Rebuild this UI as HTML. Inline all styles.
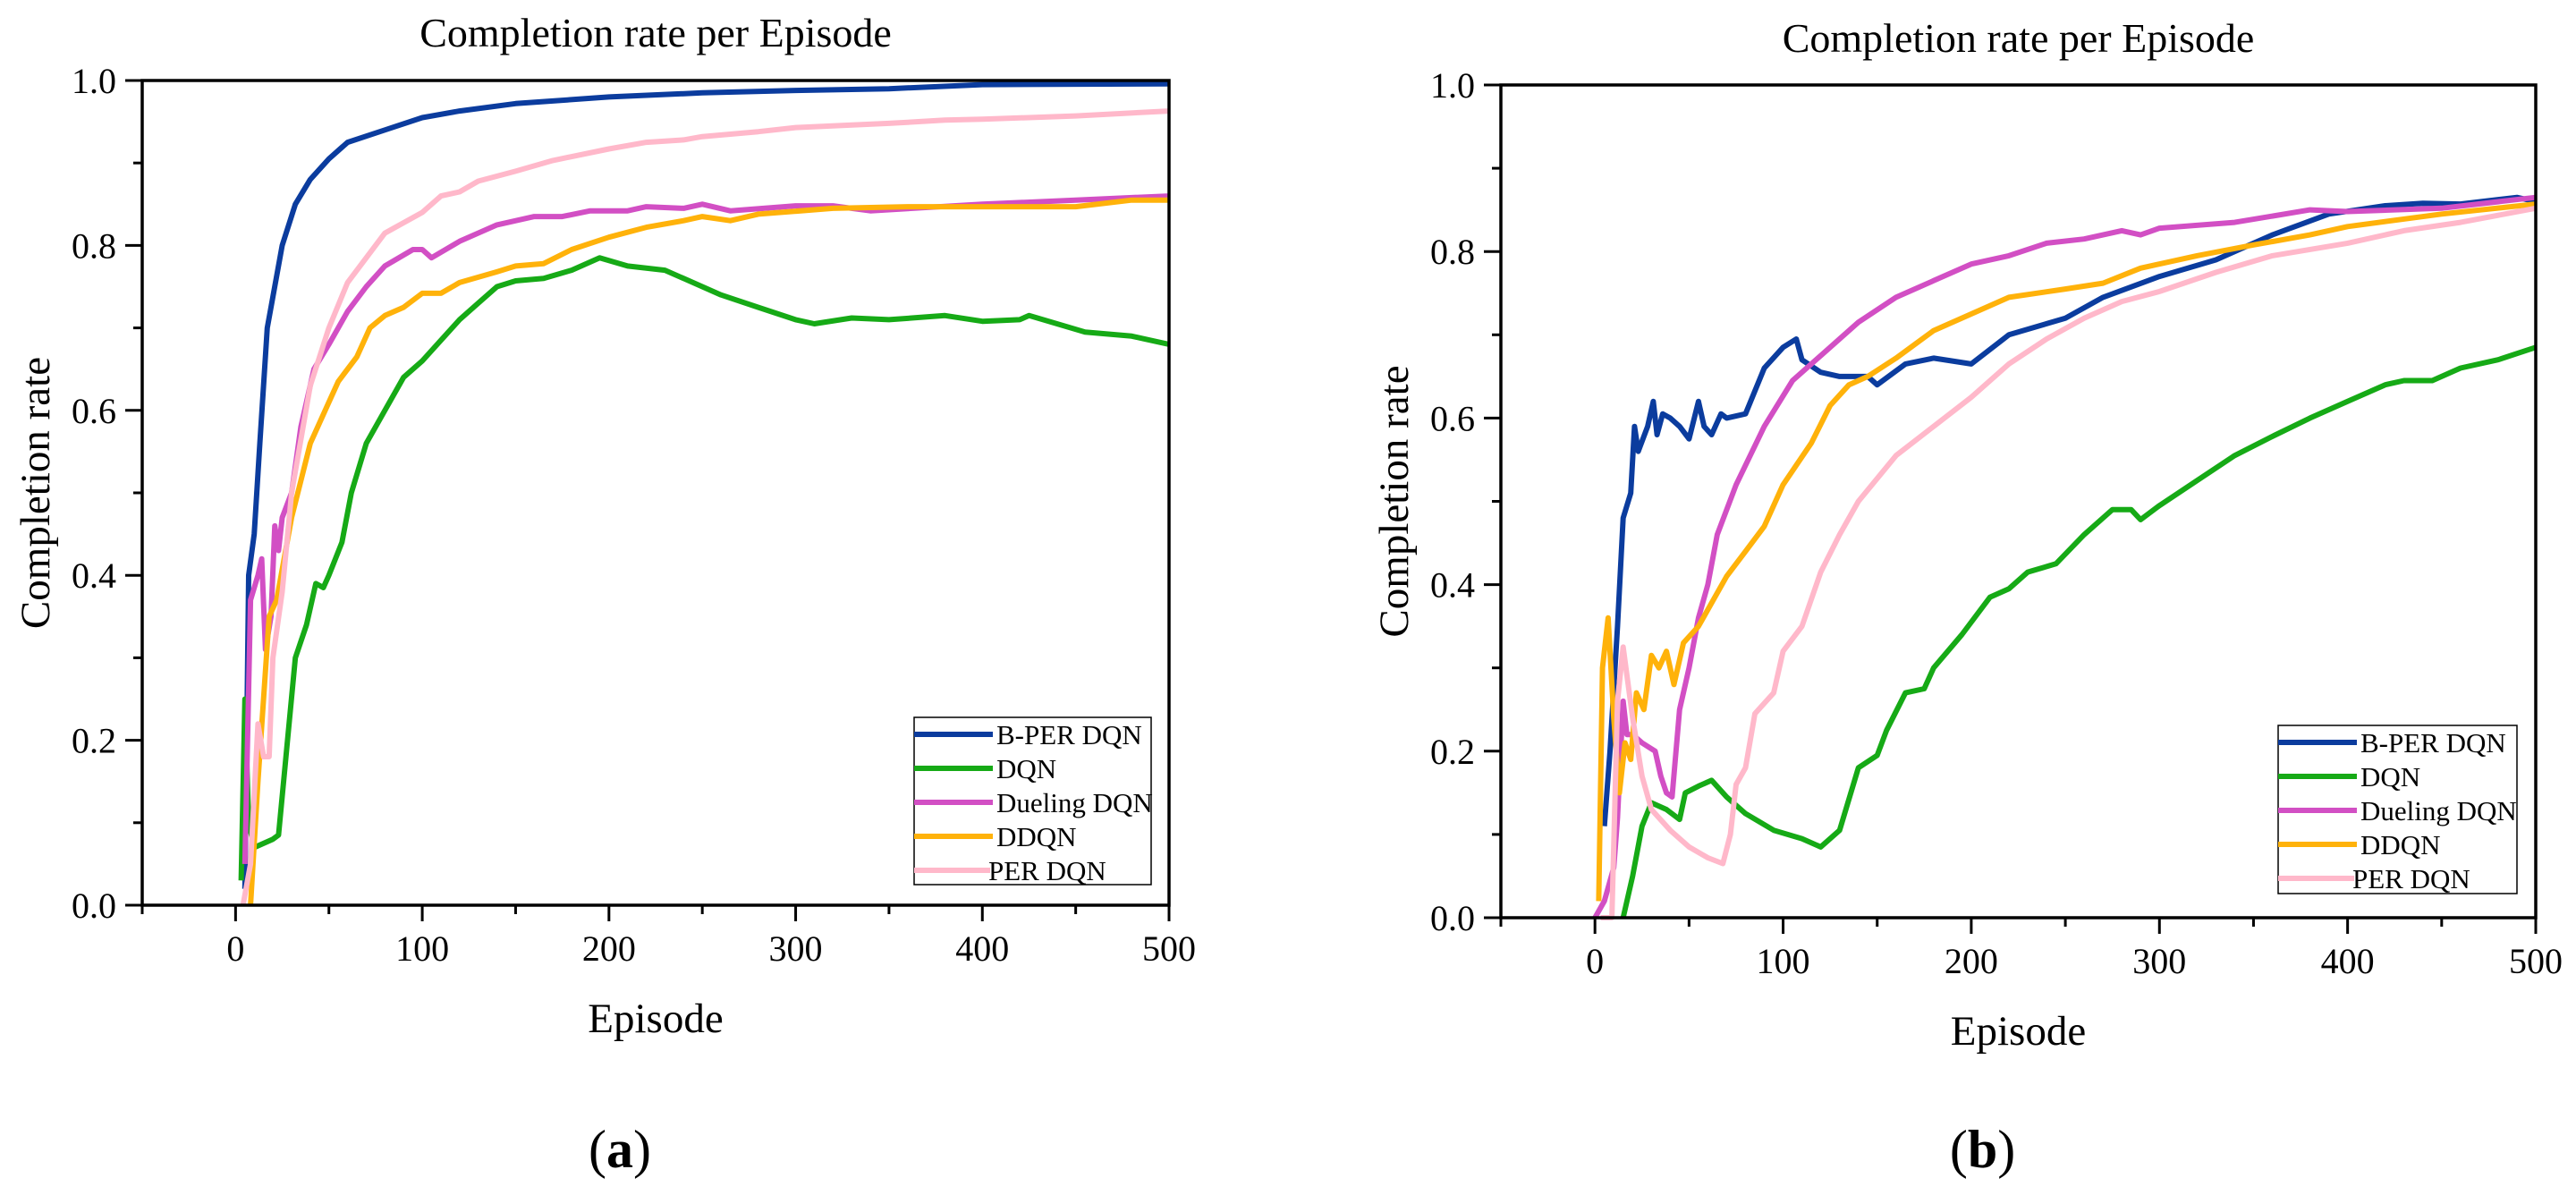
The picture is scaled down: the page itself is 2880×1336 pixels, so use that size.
<!DOCTYPE html>
<html><head><meta charset="utf-8"><style>
html,body{margin:0;padding:0;background:#fff;}
svg{display:block;font-family:"Liberation Serif",serif;}
</style></head><body>
<svg id="fig" width="2880" height="1336" viewBox="0 0 2880 1336" xmlns="http://www.w3.org/2000/svg"></svg>
<script>
const seriesNames = ["B-PER DQN","DQN","Dueling DQN","DDQN","PER DQN"];
const seriesColors = ["#0b3c9e","#16aa16","#d24fc4","#ffb20a","#ffb8ca"];
const xTicks = [0,100,200,300,400,500];
const yTicks = [0.0,0.2,0.4,0.6,0.8,1.0];
// Panel (a)
const aBper = [[5,0.02],[7,0.4],[10,0.45],[13,0.56],[17,0.7],[25,0.8],[32,0.85],[40,0.88],[50,0.905],[60,0.925],[80,0.94],[100,0.955],[120,0.963],[150,0.972],[200,0.98],[250,0.985],[300,0.988],[350,0.99],[400,0.995],[500,0.996]];
const aDqn = [[3,0.03],[5,0.25],[7,0.1],[10,0.07],[20,0.08],[23,0.085],[27,0.18],[32,0.3],[38,0.34],[43,0.39],[47,0.385],[50,0.4],[57,0.44],[62,0.5],[70,0.56],[80,0.6],[90,0.64],[100,0.66],[110,0.685],[120,0.71],[130,0.73],[140,0.75],[150,0.757],[165,0.76],[180,0.77],[195,0.785],[210,0.775],[230,0.77],[240,0.76],[260,0.74],[280,0.725],[300,0.71],[310,0.705],[330,0.712],[350,0.71],[380,0.715],[400,0.708],[420,0.71],[425,0.715],[440,0.705],[455,0.695],[480,0.69],[500,0.68]];
const aDuel = [[5,0.05],[8,0.37],[12,0.4],[14,0.42],[16,0.31],[19,0.35],[21,0.46],[23,0.43],[25,0.47],[30,0.5],[35,0.58],[42,0.65],[50,0.68],[60,0.72],[70,0.75],[80,0.775],[95,0.795],[100,0.795],[105,0.785],[120,0.805],[140,0.825],[160,0.835],[175,0.835],[190,0.842],[210,0.842],[220,0.847],[240,0.845],[250,0.85],[265,0.842],[300,0.848],[320,0.848],[340,0.842],[400,0.85],[450,0.855],[500,0.86]];
const aDdqn = [[8,0.0],[12,0.15],[18,0.35],[22,0.37],[30,0.47],[40,0.56],[50,0.61],[55,0.635],[65,0.665],[72,0.7],[80,0.715],[90,0.725],[100,0.742],[110,0.742],[120,0.755],[140,0.768],[150,0.775],[165,0.778],[180,0.795],[200,0.81],[220,0.822],[240,0.83],[250,0.835],[265,0.83],[280,0.838],[320,0.845],[360,0.847],[450,0.847],[480,0.855],[500,0.855]];
const aPer = [[4,0.0],[8,0.05],[12,0.22],[15,0.18],[18,0.18],[20,0.3],[25,0.38],[30,0.5],[40,0.63],[50,0.7],[60,0.755],[70,0.785],[80,0.815],[100,0.84],[110,0.86],[120,0.865],[130,0.878],[150,0.89],[170,0.903],[200,0.917],[220,0.925],[240,0.928],[250,0.932],[280,0.938],[300,0.943],[350,0.948],[380,0.952],[400,0.953],[450,0.957],[500,0.963]];
// Panel (b)
const bBper = [[5,0.11],[8,0.2],[12,0.35],[15,0.48],[19,0.51],[21,0.59],[23,0.56],[28,0.59],[31,0.62],[33,0.58],[36,0.605],[40,0.6],[45,0.59],[50,0.575],[55,0.62],[58,0.59],[62,0.58],[67,0.605],[70,0.6],[80,0.605],[90,0.66],[100,0.685],[107,0.695],[110,0.67],[120,0.655],[130,0.65],[145,0.65],[150,0.64],[165,0.665],[180,0.672],[200,0.665],[220,0.7],[250,0.72],[270,0.745],[300,0.77],[330,0.79],[360,0.82],[390,0.845],[420,0.855],[440,0.858],[460,0.857],[490,0.865],[500,0.86]];
const bDqn = [[15,0.0],[20,0.05],[25,0.11],[30,0.138],[38,0.13],[45,0.118],[48,0.15],[55,0.158],[62,0.165],[70,0.145],[80,0.125],[95,0.105],[110,0.095],[120,0.085],[130,0.105],[140,0.18],[150,0.195],[155,0.225],[165,0.27],[175,0.275],[180,0.3],[195,0.34],[210,0.385],[220,0.395],[230,0.415],[245,0.425],[260,0.46],[275,0.49],[285,0.49],[290,0.478],[300,0.495],[320,0.525],[340,0.555],[360,0.578],[380,0.6],[400,0.62],[420,0.64],[430,0.645],[445,0.645],[460,0.66],[480,0.67],[500,0.685]];
const bDuel = [[0,0.0],[5,0.02],[10,0.06],[12,0.12],[15,0.26],[17,0.22],[20,0.22],[25,0.21],[32,0.2],[35,0.17],[38,0.15],[41,0.145],[45,0.25],[50,0.3],[55,0.36],[60,0.4],[65,0.46],[75,0.52],[90,0.59],[105,0.645],[120,0.675],[140,0.715],[160,0.745],[180,0.765],[200,0.785],[220,0.795],[240,0.81],[260,0.815],[280,0.825],[290,0.82],[300,0.828],[340,0.835],[380,0.85],[400,0.848],[450,0.852],[500,0.865]];
const bDdqn = [[2,0.02],[4,0.3],[7,0.36],[10,0.24],[13,0.15],[16,0.21],[19,0.19],[22,0.27],[26,0.25],[30,0.315],[34,0.3],[38,0.32],[42,0.28],[47,0.33],[55,0.35],[70,0.41],[80,0.44],[90,0.47],[100,0.52],[115,0.57],[125,0.615],[135,0.64],[145,0.65],[160,0.672],[180,0.705],[200,0.725],[220,0.745],[250,0.755],[270,0.762],[290,0.78],[320,0.795],[350,0.808],[380,0.82],[400,0.83],[450,0.845],[500,0.857]];
const bPer = [[3,0.0],[9,0.0],[12,0.26],[15,0.325],[20,0.24],[25,0.17],[30,0.13],[40,0.105],[50,0.085],[60,0.072],[68,0.065],[72,0.1],[75,0.16],[80,0.18],[85,0.245],[95,0.27],[100,0.32],[110,0.35],[120,0.415],[130,0.46],[140,0.5],[160,0.555],[180,0.59],[200,0.625],[220,0.665],[240,0.695],[260,0.72],[280,0.74],[300,0.752],[330,0.775],[360,0.795],[400,0.81],[430,0.825],[460,0.835],[500,0.852]];

const NS="http://www.w3.org/2000/svg";
const svg=document.getElementById('fig');
function mk(tag,attrs,parent){const e=document.createElementNS(NS,tag);for(const k in attrs)e.setAttribute(k,attrs[k]);(parent||svg).appendChild(e);return e;}

function panel(id,box,seriesData,titleY,letter,legBox){
  const g=mk('g',{});
  
  
  const xs=v=>box.l+(v+50)/550*(box.r-box.l);
  const ys=v=>box.b-v*(box.b-box.t);
  const cx=(box.l+box.r)/2;
  const t=mk('text',{x:cx,y:titleY,'text-anchor':'middle','font-size':46,'font-family':'Liberation Serif, serif'},g);t.textContent='Completion rate per Episode';
  
  
  seriesData.forEach((d,i)=>{
    const p=mk('polyline',{points:d.map(q=>xs(q[0]).toFixed(1)+','+ys(q[1]).toFixed(1)).join(' '),fill:'none',stroke:seriesColors[i],'stroke-width':6,'stroke-linejoin':'round'},g);
    
    
  });
  const fr=mk('rect',{x:box.l,y:box.t,width:box.r-box.l,height:box.b-box.t,fill:'none',stroke:'#000','stroke-width':3.5},g);
  
  
  for(let k=0;k<=10;k++){
    const v=k/10, y=ys(v), major=k%2===0;
    mk('line',{x1:box.l-(major?19:10),x2:box.l,y1:y,y2:y,stroke:'#000','stroke-width':3},g);
  }
  yTicks.forEach(v=>{
    const tx=mk('text',{x:box.l-29,y:ys(v)+14,'text-anchor':'end','font-size':40,'font-family':'Liberation Serif, serif'},g);tx.textContent=v.toFixed(1);
    
    
  });
  for(let v=-50;v<=500;v+=50){
    const major=v%100===0;
    mk('line',{x1:xs(v),x2:xs(v),y1:box.b,y2:box.b+(major?18:10),stroke:'#000','stroke-width':3},g);
  }
  xTicks.forEach(v=>{
    const tx=mk('text',{x:xs(v),y:box.b+62,'text-anchor':'middle','font-size':40,'font-family':'Liberation Serif, serif'},g);tx.textContent=v;
    
    
  });
  const xt=mk('text',{x:cx,y:box.b+142,'text-anchor':'middle','font-size':47,'font-family':'Liberation Serif, serif'},g);xt.textContent='Episode';
  
  
  const yx=box.l-104, yy=(box.t+box.b)/2;
  const yt=mk('text',{x:yx,y:yy,'text-anchor':'middle','font-size':47,'font-family':'Liberation Serif, serif',transform:`rotate(-90 ${yx} ${yy})`},g);yt.textContent='Completion rate';
  
  
  const lg=mk('g',{},g);
  
  
  mk('rect',{x:legBox.x,y:legBox.y,width:legBox.w,height:legBox.h,fill:'#fff',stroke:'#000','stroke-width':1.5},lg);
  seriesNames.forEach((n,i)=>{
    const y=legBox.y+19+i*38;
    const e=mk('g',{},lg);
    
    
    mk('line',{x1:legBox.x,x2:legBox.x+(i===4?85:88),y1:y,y2:y,stroke:seriesColors[i],'stroke-width':6},e);
    const tx=mk('text',{x:legBox.x+(i===4?83:92),y:y+11,'font-size':31,'font-family':'Liberation Serif, serif'},e);tx.textContent=n;
  });
  const lt=mk('text',{x:cx-40,y:1305,'text-anchor':'middle','font-size':60,'font-family':'Liberation Serif, serif'},g);
  lt.innerHTML='(<tspan font-weight="bold">'+letter+'</tspan>)';
  
  
}
panel('a',{l:159,r:1307,t:90,b:1012},[aBper,aDqn,aDuel,aDdqn,aPer],52,'a',{x:1022,y:802,w:265,h:187});
panel('b',{l:1678,r:2835,t:95,b:1026},[bBper,bDqn,bDuel,bDdqn,bPer],58,'b',{x:2547,y:811,w:267,h:188});
</script>
</body></html>
